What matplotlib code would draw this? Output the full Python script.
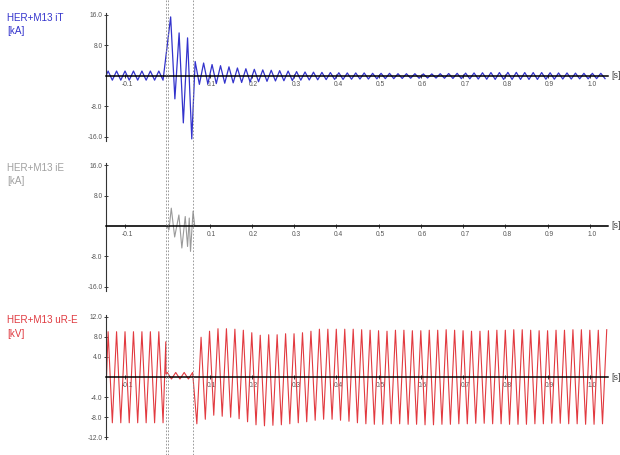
import matplotlib
matplotlib.use('Agg')
import matplotlib.pyplot as plt
import matplotlib.transforms as mtransforms
from matplotlib.lines import Line2D
import numpy as np

plt.rcParams['font.family'] = ['Liberation Sans', 'DejaVu Sans']

# time window of the record [s]
t_start = -0.145
t_end = 1.043
half_period = 0.01          # spacing of the read extrema (50 Hz)
x_ticks = [-0.1, 0.1, 0.2, 0.3, 0.4, 0.5, 0.6, 0.7, 0.8, 0.9, 1.0]
x_ticklabels = ['-0.1', '0.1', '0.2', '0.3', '0.4', '0.5', '0.6', '0.7', '0.8', '0.9', '1.0']
fault_marks = [-0.0037, 0.0024, 0.0616]

# ---- HER+M13 iT [kA] : extrema
iT_pre_t0 = -0.14
iT_pre = [1.3, -1.1] * 7
iT_fault_t0 = 0.008
iT_fault = [15.5, -6.0, 11.3, -12.3, 10.0, -16.5]
iT_post_t0 = 0.066
iT_post_pos = [3.8, 3.4, 3.0, 2.7, 2.4, 2.1, 1.9, 1.75, 1.6, 1.5,
               1.4, 1.3, 1.15, 1.05, 1.0, 0.95, 0.9, 0.85, 0.8, 0.8,
               0.8, 0.7, 0.7, 0.7, 0.6, 0.6, 0.6, 0.55, 0.55, 0.6,
               0.65, 0.7, 0.75, 0.8, 0.85, 0.9, 0.9, 0.95, 0.95, 0.9,
               0.9, 0.9, 0.85, 0.8, 0.8, 0.75, 0.7, 0.7, 0.7]
iT_post_neg = [-2.2, -2.1, -2.0, -1.9, -1.8, -1.7, -1.6, -1.5, -1.4, -1.3,
               -1.25, -1.2, -1.1, -1.05, -1.0, -0.95, -0.9, -0.9, -0.85, -0.8,
               -0.8, -0.75, -0.7, -0.7, -0.65, -0.6, -0.6, -0.55, -0.55, -0.6,
               -0.65, -0.7, -0.75, -0.8, -0.85, -0.9, -0.9, -0.9, -0.9, -0.9,
               -0.9, -0.85, -0.85, -0.8, -0.8, -0.75, -0.75, -0.7, -0.7]

# ---- HER+M13 iE [kA]
iE_t = [-0.145, -0.001, 0.004, 0.0095, 0.0175, 0.0275, 0.0345, 0.0425,
        0.048, 0.052, 0.055, 0.061, 0.065, 1.043]
iE_v = [0.0, 0.0, -1.0, 4.7, -2.9, 2.9, -5.8, 2.5, -5.4, 2.1, -6.7, 3.9, 0.0, 0.0]

# ---- HER+M13 uR-E [kV]
uR_pre_t0 = -0.14
uR_pre = [9.0, -9.1] * 7
uR_spike_t = [-0.0035, -0.003]
uR_spike_v = [7.0, 0.6]
uR_fault_t0 = 0.0
uR_fault = [0.9, -0.4, 0.9, -0.4, 0.9, -0.4, 0.9]
uR_post_t0 = 0.07
uR_post_neg = [-9.3, -8.4, -7.6, -7.8, -8.0, -8.3, -8.9, -9.5, -9.7, -9.6,
               -9.5, -9.3, -9.1, -8.9, -8.6, -8.4, -8.4, -8.6, -8.8, -9.1,
               -9.3, -9.4, -9.4, -9.3,
               -9.3, -9.4, -9.4, -9.5, -9.5, -9.4, -9.4, -9.3, -9.3, -9.2,
               -9.2, -9.3, -9.3, -9.4, -9.4, -9.4, -9.3, -9.3, -9.2, -9.2,
               -9.3, -9.3, -9.4, -9.4, -9.3]
uR_post_pos = [7.9, 9.1, 9.6, 9.6, 9.5, 9.3, 8.8, 8.3, 8.4, 8.4,
               8.6, 8.6, 8.8, 9.1, 9.5, 9.5, 9.5, 9.5, 9.5, 9.4,
               9.3, 9.2, 9.1, 9.3,
               9.3, 9.2, 9.2, 9.3, 9.3, 9.4, 9.3, 9.2, 9.1, 9.1,
               9.2, 9.3, 9.3, 9.4, 9.4, 9.3, 9.2, 9.2, 9.3, 9.3,
               9.4, 9.4, 9.3, 9.3, 9.4]


def extrema(t0, vals):
    # extrema sit every half period after t0
    return t0 + half_period * np.arange(len(vals)), np.asarray(vals, dtype=float)


def interleave(a, b):
    return list(np.column_stack([a, b]).ravel())


# build iT trace
t1, v1 = extrema(iT_pre_t0, iT_pre)
t2, v2 = extrema(iT_fault_t0, iT_fault)
t3, v3 = extrema(iT_post_t0, interleave(iT_post_pos, iT_post_neg))
iT_t = np.concatenate([[t_start], t1, t2, t3])
iT_v = np.concatenate([[0.0], v1, v2, v3])

# build uR-E trace
t1, v1 = extrema(uR_pre_t0, uR_pre)
t2, v2 = extrema(uR_fault_t0, uR_fault)
t3, v3 = extrema(uR_post_t0, interleave(uR_post_neg, uR_post_pos))
uR_t = np.concatenate([[t_start], t1, uR_spike_t, t2, t3])
uR_v = np.concatenate([[-3.0], v1, uR_spike_v, v2, v3])

fig = plt.figure(figsize=(6.2, 4.55), dpi=100)
W, H = 620.0, 455.0

# axes rectangles from pixel positions of the reference
ax1 = fig.add_axes([106 / W, 1 - 140.8 / H, 502 / W, 128.1 / H])
ax2 = fig.add_axes([106 / W, 1 - 290.5 / H, 502 / W, 127.5 / H])
ax3 = fig.add_axes([106 / W, 1 - 439.4 / H, 502 / W, 124.8 / H])


def style(ax, ylim, yticks, ylabels):
    ax.set_xlim(t_start, t_end)
    ax.set_ylim(*ylim)
    ax.patch.set_alpha(0)
    ax.spines['top'].set_visible(False)
    ax.spines['right'].set_visible(False)
    ax.spines['bottom'].set_position(('data', 0))
    ax.spines['bottom'].set_color('black')
    ax.spines['bottom'].set_linewidth(1.1)
    ax.spines['bottom'].set_zorder(4)
    ax.spines['left'].set_color('#333333')
    ax.spines['left'].set_linewidth(0.8)
    ax.set_xticks(x_ticks)
    ax.set_xticklabels(x_ticklabels)
    ax.set_yticks(yticks)
    ax.set_yticklabels(ylabels)
    ax.tick_params(axis='both', direction='inout', length=3, width=0.6,
                   labelsize=4.8, colors='#222222', labelcolor='#555555', pad=1)
    ax.tick_params(axis='x', pad=2)
    shift = mtransforms.ScaledTranslation(2 / 100, 0, fig.dpi_scale_trans)
    for lab in ax.get_xticklabels():
        lab.set_transform(lab.get_transform() + shift)
    trans = mtransforms.blended_transform_factory(ax.transAxes, ax.transData)
    ax.text(1.006, 0, '[s]', transform=trans, fontsize=6.4, color='#444444',
            ha='left', va='center')


style(ax1, (-17, 16.6), [16, 8, -8, -16], ['16.0', '8.0', '-8.0', '-16.0'])
style(ax2, (-17, 16.6), [16, 8, -8, -16], ['16.0', '8.0', '-8.0', '-16.0'])
style(ax3, (-12.4, 12.4), [12, 8, 4, -4, -8, -12],
      ['12.0', '8.0', '4.0', '-4.0', '-8.0', '-12.0'])

ax1.plot(iT_t, iT_v, color='#3333cc', lw=0.9, zorder=2, solid_joinstyle='round')
ax2.plot(iE_t, iE_v, color='#9a9a9a', lw=0.8, zorder=2, solid_joinstyle='round')
ax3.plot(uR_t, uR_v, color='#e23a40', lw=0.8, zorder=2, solid_joinstyle='round')

# channel names
fs = 7.1
fig.text(7 / W, 1 - 21 / H, 'HER+M13 iT', color='#3333cc', fontsize=fs, va='baseline')
fig.text(7 / W, 1 - 34.5 / H, '[kA]', color='#3333cc', fontsize=fs, va='baseline')
fig.text(7 / W, 1 - 171 / H, 'HER+M13 iE', color='#a0a0a0', fontsize=fs, va='baseline')
fig.text(7 / W, 1 - 184.5 / H, '[kA]', color='#a0a0a0', fontsize=fs, va='baseline')
fig.text(7 / W, 1 - 323.3 / H, 'HER+M13 uR-E', color='#e03a40', fontsize=fs, va='baseline')
fig.text(7 / W, 1 - 337 / H, '[kV]', color='#e03a40', fontsize=fs, va='baseline')

# cursor lines across the whole sheet
vtrans = mtransforms.blended_transform_factory(ax1.transData, fig.transFigure)
for tm in fault_marks:
    fig.add_artist(Line2D([tm, tm], [0, 1], transform=vtrans, color='#8a8a8a',
                          lw=0.6, dashes=(2, 2)))

fig.savefig('out.png', dpi=100)
